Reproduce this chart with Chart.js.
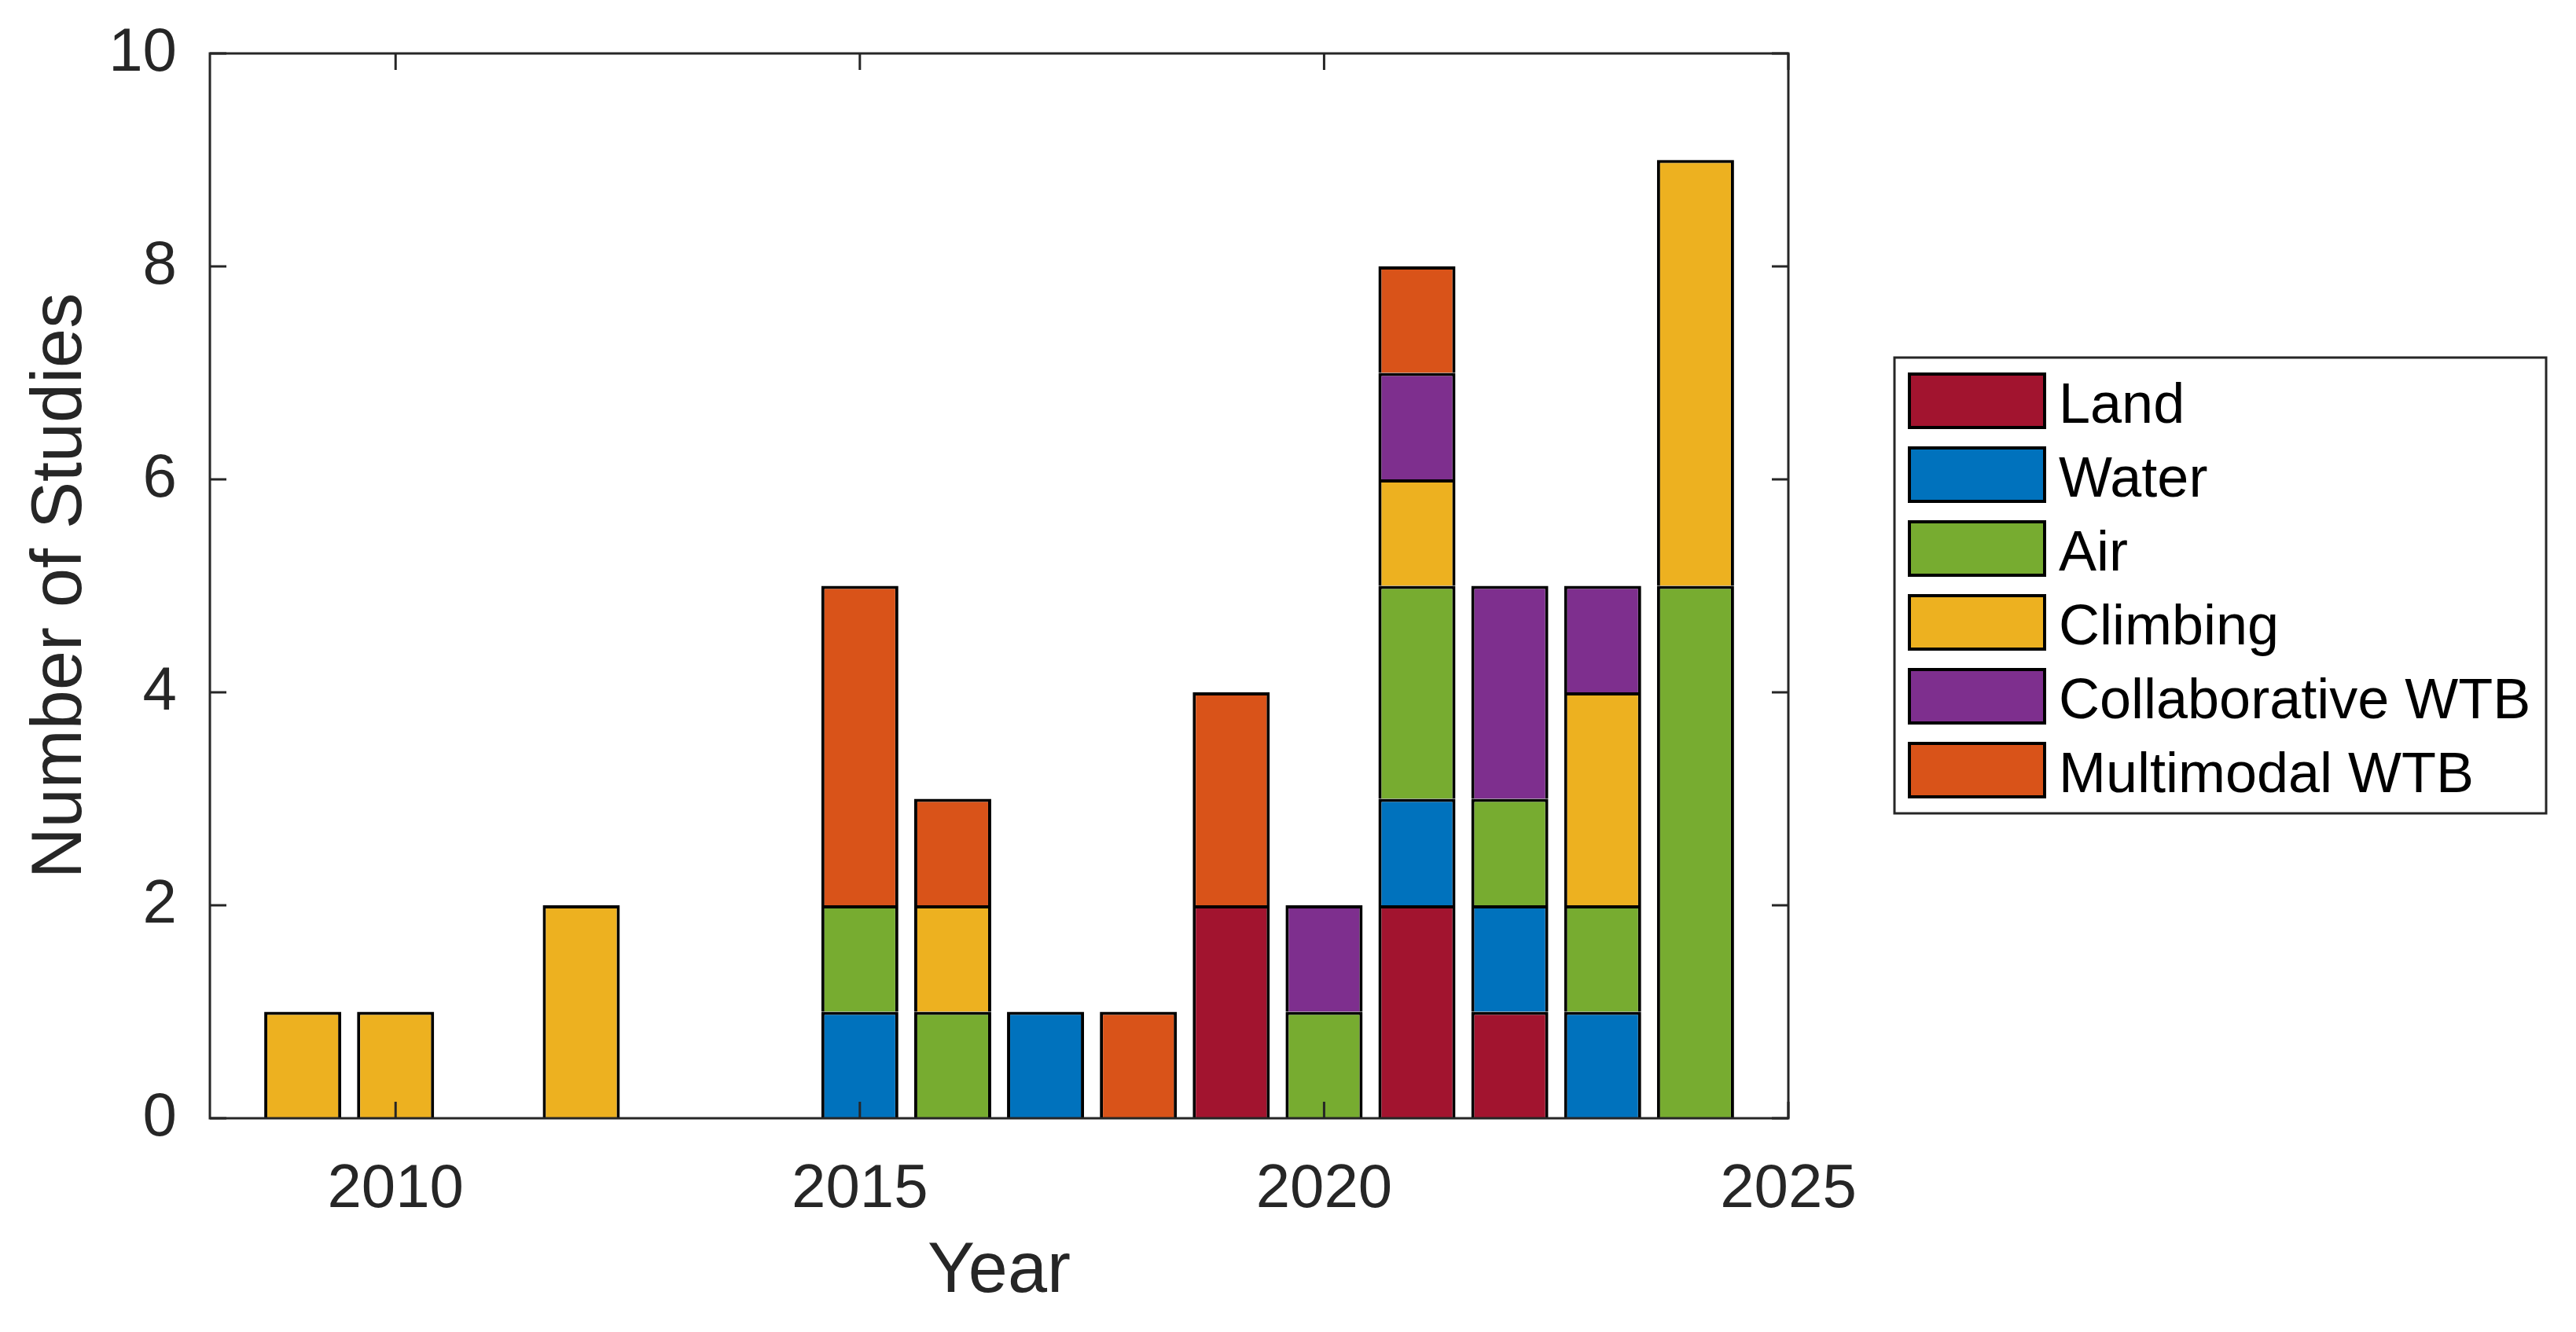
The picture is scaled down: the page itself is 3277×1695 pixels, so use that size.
<!DOCTYPE html>
<html>
<head>
<meta charset="utf-8">
<script src="https://cdn.jsdelivr.net/npm/chart.js@4.4.1/dist/chart.umd.min.js"></script>
<style>
  html, body { margin: 0; padding: 0; background: #fff; }
  #wrap { width: 3277px; height: 1695px; }
</style>
</head>
<body>
<div id="wrap"><canvas id="grafico" width="3277" height="1695"></canvas></div>
<script>
// dados
const anos = [2009, 2010, 2012, 2015, 2016, 2017, 2018, 2019, 2020, 2021, 2022, 2023, 2024];
const land = [0, 0, 0, 0, 0, 0, 0, 2, 0, 2, 1, 0, 0];
const water = [0, 0, 0, 1, 0, 1, 0, 0, 0, 1, 1, 1, 0];
const air = [0, 0, 0, 1, 1, 0, 0, 0, 1, 2, 1, 1, 5];
const climbing = [1, 1, 2, 0, 1, 0, 0, 0, 0, 1, 0, 2, 4];
const collaborative = [0, 0, 0, 0, 0, 0, 0, 0, 1, 1, 2, 1, 0];
const multimodal = [0, 0, 0, 3, 1, 0, 1, 2, 0, 1, 0, 0, 0];

const xTicks = [2010, 2015, 2020, 2025];
const yTicks = [0, 2, 4, 6, 8, 10];

const series = [
  { nome: 'Land', valores: land, cor: '#A2142F' },
  { nome: 'Water', valores: water, cor: '#0072BD' },
  { nome: 'Air', valores: air, cor: '#77AC30' },
  { nome: 'Climbing', valores: climbing, cor: '#EDB120' },
  { nome: 'Collaborative WTB', valores: collaborative, cor: '#7E2F8E' },
  { nome: 'Multimodal WTB', valores: multimodal, cor: '#D95319' }
];

const fonte = '"Liberation Sans", Arial, Helvetica, sans-serif';
const cinza = '#262626';

// caixa dos eixos + ticks para dentro (estilo MATLAB) e legenda
const estiloMatlab = {
  id: 'estiloMatlab',
  afterDraw(chart) {
    const { ctx, chartArea: a, scales } = chart;
    ctx.save();
    ctx.strokeStyle = cinza;
    ctx.lineWidth = 3;
    ctx.strokeRect(a.left, a.top, a.right - a.left, a.bottom - a.top);
    const tl = 21;
    ctx.beginPath();
    xTicks.forEach(v => {
      const px = scales.x.getPixelForValue(v);
      ctx.moveTo(px, a.bottom); ctx.lineTo(px, a.bottom - tl);
      ctx.moveTo(px, a.top); ctx.lineTo(px, a.top + tl);
    });
    yTicks.forEach(v => {
      const py = scales.y.getPixelForValue(v);
      ctx.moveTo(a.left, py); ctx.lineTo(a.left + tl, py);
      ctx.moveTo(a.right, py); ctx.lineTo(a.right - tl, py);
    });
    ctx.stroke();

    // legenda
    const lx = 2410, ly = 455, lw = 829, lh = 580;
    ctx.fillStyle = '#fff';
    ctx.fillRect(lx, ly, lw, lh);
    ctx.strokeRect(lx, ly, lw, lh);
    ctx.font = '72px ' + fonte;
    ctx.textBaseline = 'alphabetic';
    chart.data.datasets.forEach((ds, i) => {
      const top = 474 + i * 94;
      ctx.fillStyle = '#000';
      ctx.fillRect(2427, top, 176, 72);
      ctx.fillStyle = ds.backgroundColor;
      ctx.fillRect(2431, top + 4, 168, 64);
      ctx.fillStyle = '#000';
      ctx.fillText(ds.label, 2619, top + 36 + 28);
    });
    ctx.restore();
  }
};

const ctx = document.getElementById('grafico').getContext('2d');

const grafico = new Chart(ctx, {
  type: 'bar',
  data: {
    datasets: series.map(s => ({
      label: s.nome,
      data: anos.map((ano, i) => ({ x: ano, y: s.valores[i] === 0 ? null : s.valores[i] })),
      backgroundColor: s.cor,
      borderColor: '#000',
      borderWidth: { top: 4, left: 4, right: 4, bottom: 0 },
      borderSkipped: false,
      inflateAmount: 0,
      barPercentage: 0.83,
      categoryPercentage: 1
    }))
  },
  options: {
    responsive: false,
    animation: false,
    devicePixelRatio: 1,
    layout: { padding: { left: 0, top: 68, right: 1002, bottom: 0 } },
    plugins: {
      legend: { display: false },
      tooltip: { enabled: false }
    },
    scales: {
      x: {
        type: 'linear',
        stacked: true,
        offset: false,
        min: 2008,
        max: 2025,
        grid: { display: false, offset: false },
        border: { display: false },
        afterBuildTicks: scale => { scale.ticks = xTicks.map(v => ({ value: v })); },
        afterFit: scale => { scale.height = 272; },
        ticks: {
          color: cinza,
          padding: 37,
          maxRotation: 0,
          font: { family: fonte, size: 78 },
          callback: v => String(v)
        },
        title: {
          display: true,
          text: 'Year',
          color: cinza,
          font: { family: fonte, size: 90 },
          padding: { top: 0, bottom: 22 }
        }
      },
      y: {
        stacked: true,
        min: 0,
        max: 10,
        grid: { display: false },
        border: { display: false },
        afterBuildTicks: scale => { scale.ticks = yTicks.map(v => ({ value: v })); },
        afterFit: scale => {
          scale.width = 267;
          scale.paddingTop = 0;
          scale.paddingBottom = 0;
        },
        ticks: {
          color: cinza,
          padding: 34,
          font: { family: fonte, size: 78 }
        },
        title: {
          display: true,
          text: 'Number of Studies',
          color: cinza,
          font: { family: fonte, size: 90 },
          padding: { top: 24, bottom: 0 }
        }
      }
    }
  },
  plugins: [estiloMatlab]
});
</script>
</body>
</html>
